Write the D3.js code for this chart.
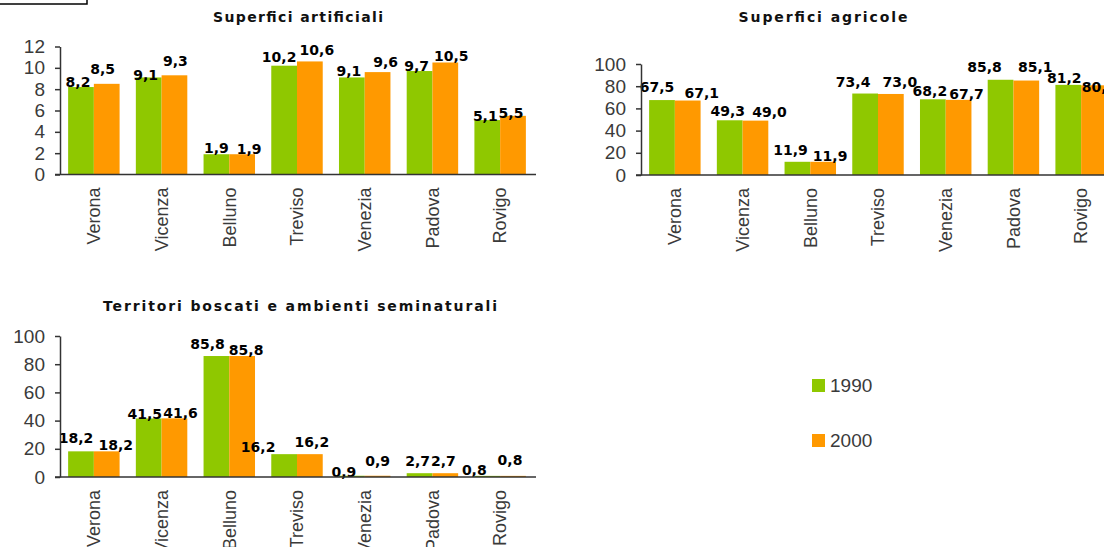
<!DOCTYPE html>
<html>
<head>
<meta charset="utf-8">
<script src="https://cdn.jsdelivr.net/npm/d3@7"></script>
<style>
  html, body { margin: 0; padding: 0; background: #ffffff; overflow: hidden; }
  svg { display: block; }
  .tick text { font-family: "Liberation Sans", Arial, sans-serif; fill: #3a3a3a; }
  .title { font-family: "DejaVu Sans", Verdana, sans-serif; font-weight: bold; font-size: 14px; fill: #111; }
  .value { font-family: "DejaVu Sans", Verdana, sans-serif; font-weight: bold; font-size: 14px; fill: #000; }
  .legend { font-family: "Liberation Sans", Arial, sans-serif; font-size: 19px; fill: #3a3a3a; }
</style>
</head>
<body>
<svg id="chart" width="1104" height="547"></svg>
<script>
// Province del Veneto, quota % di superficie per classe di uso del suolo
const categories = ["Verona", "Vicenza", "Belluno", "Treviso", "Venezia", "Padova", "Rovigo"];
const years = ["1990", "2000"];

const artificiali1990 = [8.2, 9.1, 1.9, 10.2, 9.1, 9.7, 5.1];
const artificiali2000 = [8.5, 9.3, 1.9, 10.6, 9.6, 10.5, 5.5];

const agricole1990 = [67.5, 49.3, 11.9, 73.4, 68.2, 85.8, 81.2];
const agricole2000 = [67.1, 49.0, 11.9, 73.0, 67.7, 85.1, 80.8];

const boscati1990 = [18.2, 41.5, 85.8, 16.2, 0.9, 2.7, 0.8];
const boscati2000 = [18.2, 41.6, 85.8, 16.2, 0.9, 2.7, 0.8];

const ticksArtificiali = [0, 2, 4, 6, 8, 10, 12];
const ticksPercentuali = [0, 20, 40, 60, 80, 100];

// Hand-placed offsets of the value labels, [dx, dy] from the top centre of each bar,
// one pair for 1990 and one for 2000 in each province.
const shiftArtificiali = [
  [[-3, -5], [-4, -15]], [[-3, -2], [1, -14]], [[0, -6], [7, -5]], [[-5, -9], [7, -11]],
  [[-3, -6], [8, -10]], [[-3, -5], [6, -7]], [[-2, -4], [-2, -3]]
];
const shiftAgricole = [
  [[-5, -13], [14, -8]], [[-2, -9], [14, -9]], [[-7, -12], [7, -6]], [[-12, -12], [9, -12]],
  [[-3, -8], [8, -6]], [[-16, -13], [9, -14]], [[-4, -7], [5, 2]]
];
const shiftBoscati = [
  [[-5, -13], [9, -6]], [[-4, -5], [6, -5]], [[-9, -12], [4, -6]], [[-26, -7], [2, -12]],
  [[-8, -4], [0, -15]], [[-2, -12], [-2, -12]], [[-13, -6], [-3, -16]]
];

const colors = { "1990": "#8fc800", "2000": "#ff9900" };
const fmt = v => d3.format(".1f")(v).replace(".", ",");

const svg = d3.select("#chart");

// small framed box in the top-left corner
svg.append("rect")
  .attr("x", -2).attr("y", -2).attr("width", 89).attr("height", 6)
  .attr("fill", "none").attr("stroke", "#000").attr("stroke-width", 1.5);

function panel(cfg) {
  const g = svg.append("g");
  const width = 474;

  const x = d3.scaleBand().domain(categories)
    .range([cfg.left, cfg.left + width])
    .paddingInner(0.24).paddingOuter(0.12);
  const xs = d3.scaleBand().domain(years).range([0, x.bandwidth()]);
  const y = d3.scaleLinear().domain([0, d3.max(cfg.ticks)]).range([cfg.zero, cfg.top]);

  // title
  g.append("text").attr("class", "title")
    .attr("x", cfg.titleX).attr("y", cfg.titleY)
    .attr("text-anchor", "middle")
    .attr("textLength", cfg.titleWidth).attr("lengthAdjust", "spacing")
    .text(cfg.title);

  // bars
  const rows = categories.map((c, i) => ({
    c,
    items: [cfg.v1[i], cfg.v2[i]].map((v, k) => ({ year: years[k], v, shift: cfg.shift[i][k] }))
  }));
  const grp = g.selectAll("g.cat").data(rows).join("g")
    .attr("transform", d => `translate(${x(d.c)},0)`);
  grp.selectAll("rect").data(d => d.items)
    .join("rect")
    .attr("x", d => xs(d.year))
    .attr("width", xs.bandwidth())
    .attr("y", d => y(d.v))
    .attr("height", d => y(0) - y(d.v))
    .attr("fill", d => colors[d.year]);

  // y axis
  const ya = g.append("g").attr("transform", `translate(${cfg.left},0)`)
    .call(d3.axisLeft(y).tickValues(cfg.ticks).tickSize(5).tickSizeOuter(0).tickPadding(10));
  ya.select(".domain").attr("stroke", "#333").attr("stroke-width", 1.5);
  ya.selectAll(".tick line").attr("stroke", "#333").attr("stroke-width", 1.5);
  ya.selectAll(".tick text").style("font-size", "19px");

  // x axis baseline
  g.append("line")
    .attr("x1", cfg.left - 5).attr("x2", cfg.left + width + 2)
    .attr("y1", y(0)).attr("y2", y(0))
    .attr("stroke", "#333").attr("stroke-width", 1.5);

  // value labels
  grp.selectAll("text.value").data(d => d.items)
    .join("text").attr("class", "value")
    .attr("x", d => xs(d.year) + xs.bandwidth() / 2 + d.shift[0])
    .attr("y", d => y(d.v) + d.shift[1])
    .attr("dy", "0.36em")
    .attr("text-anchor", "middle")
    .text(d => fmt(d.v));

  // category labels, rotated
  const xa = g.append("g").attr("transform", `translate(0,${y(0)})`)
    .call(d3.axisBottom(x).tickSize(0).tickSizeOuter(0));
  xa.select(".domain").remove();
  xa.selectAll(".tick text")
    .style("font-size", "18px")
    .attr("transform", "rotate(-90)")
    .attr("x", -13).attr("y", 0).attr("dy", "0.35em")
    .attr("text-anchor", "end");
}

panel({ title: "Superfici artificiali", v1: artificiali1990, v2: artificiali2000,
  shift: shiftArtificiali, ticks: ticksArtificiali, left: 60, top: 46.5, zero: 174.5,
  titleX: 298, titleY: 22, titleWidth: 170 });

panel({ title: "Superfici agricole", v1: agricole1990, v2: agricole2000,
  shift: shiftAgricole, ticks: ticksPercentuali, left: 641, top: 64, zero: 175,
  titleX: 823, titleY: 22, titleWidth: 169 });

panel({ title: "Territori boscati e ambienti seminaturali", v1: boscati1990, v2: boscati2000,
  shift: shiftBoscati, ticks: ticksPercentuali, left: 60, top: 336, zero: 477,
  titleX: 300, titleY: 311, titleWidth: 394 });

// legend
const lg = svg.append("g");
years.forEach((yr, i) => {
  const yy = 379 + i * 55;
  lg.append("rect").attr("x", 812).attr("y", yy).attr("width", 13).attr("height", 13)
    .attr("fill", colors[yr]);
  lg.append("text").attr("class", "legend").attr("x", 830).attr("y", yy + 6.5)
    .attr("dy", "0.35em").text(yr);
});
</script>
</body>
</html>
